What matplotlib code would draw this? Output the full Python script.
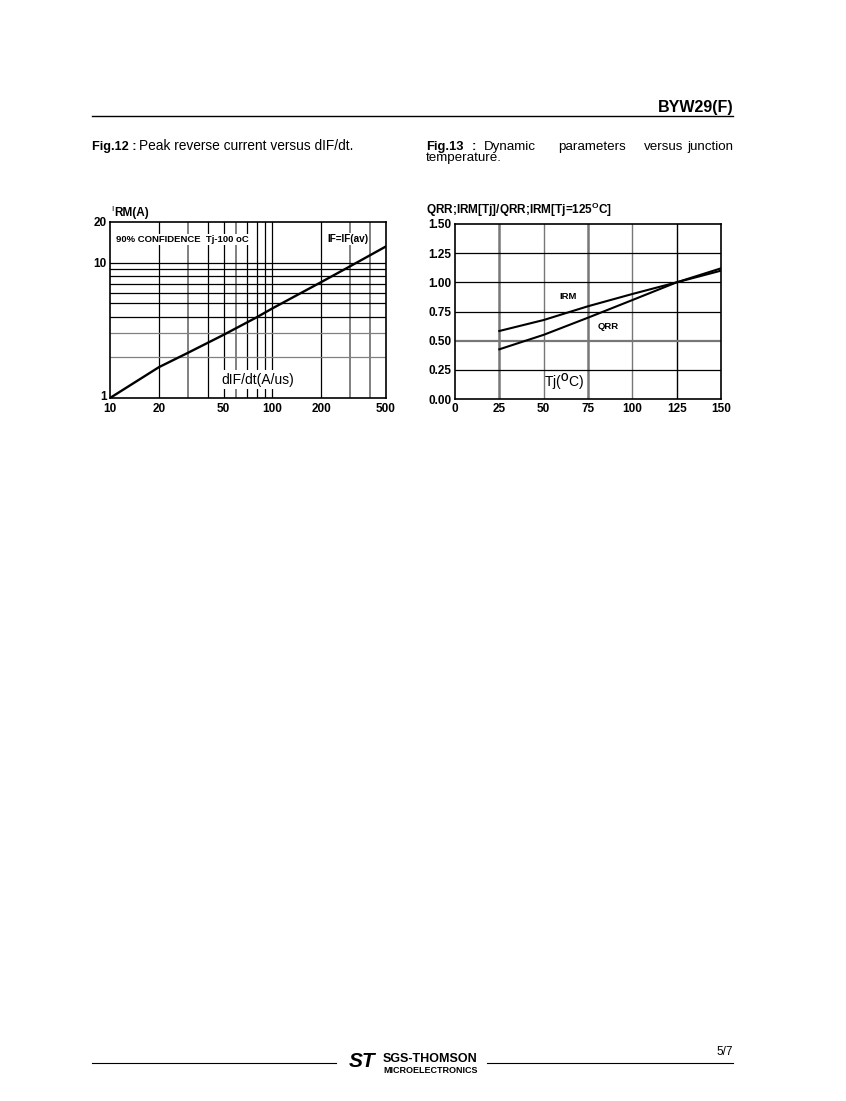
import matplotlib
matplotlib.use("Agg")
import matplotlib.pyplot as plt
from matplotlib.transforms import ScaledTranslation

plt.rcParams['font.family'] = ['Liberation Sans', 'DejaVu Sans']
plt.rcParams['mathtext.fontset'] = 'custom'
plt.rcParams['mathtext.rm'] = 'Liberation Sans'
plt.rcParams['mathtext.bf'] = 'Liberation Sans:bold'

# ---- Fig.12 data ----
didt = [10, 20, 30, 50, 80, 100, 200, 300, 500]
irm_a = [1.0, 1.69, 2.15, 2.93, 3.95, 4.6, 7.2, 9.4, 13.2]
f12_xticks = [10, 20, 50, 100, 200, 500]
f12_yticks = [1, 10, 20]
f12_vgrid_black = [20, 40, 50, 70, 80, 90, 100, 200]
f12_vgrid_gray = [30, 60, 300, 400]
f12_hgrid_black = [4, 5, 6, 7, 8, 9, 10]
f12_hgrid_gray = [2, 3]

# ---- Fig.13 data ----
tj = [25, 50, 75, 100, 125, 150]
irm_rel = [0.583, 0.677, 0.795, 0.90, 1.0, 1.10]
qrr_rel = [0.426, 0.55, 0.697, 0.848, 1.0, 1.12]
f13_xticks = [0, 25, 50, 75, 100, 125, 150]
f13_yticks = [0.0, 0.25, 0.50, 0.75, 1.00, 1.25, 1.50]

W, H = 846, 1101
fig = plt.figure(figsize=(W / 100, H / 100), dpi=100)


def fx(x):
    return x / W


def fy(y):
    return 1 - y / H


CS = 9.6  # caption size
L1, L2 = 149.5, 161.5

# header
fig.add_artist(plt.Line2D([fx(92), fx(733)], [fy(116), fy(116)], color='black', lw=1.0))
fig.text(fx(733), fy(112), "BYW29(F)", ha='right', va='baseline', fontsize=11.5, fontweight='bold')
fig.text(fx(92), fy(L1), "Fig.12 :", ha='left', va='baseline', fontsize=9.2, fontweight='bold')
fig.text(fx(139), fy(L1), "Peak reverse current versus dIF/dt.", ha='left', va='baseline', fontsize=9.9)
fig.text(fx(426), fy(L1), "Fig.13", ha='left', va='baseline', fontsize=9.4, fontweight='bold')
fig.text(fx(472), fy(L1), ":", ha='left', va='baseline', fontsize=9.4, fontweight='bold')
fig.text(fx(484), fy(L1), "Dynamic", ha='left', va='baseline', fontsize=CS)
fig.text(fx(558), fy(L1), "parameters", ha='left', va='baseline', fontsize=CS)
fig.text(fx(644), fy(L1), "versus", ha='left', va='baseline', fontsize=CS)
fig.text(fx(733), fy(L1), "junction", ha='right', va='baseline', fontsize=CS)
fig.text(fx(426), fy(L2), "temperature.", ha='left', va='baseline', fontsize=CS)

# ---- Fig.12 axes ----
ax1 = fig.add_axes([fx(110), fy(398), (386 - 110) / W, (398 - 222) / H])
ax1.set_xscale('log')
ax1.set_yscale('log')
ax1.set_xlim(10, 500)
ax1.set_ylim(1, 20)
for v in f12_vgrid_black:
    ax1.axvline(v, color='black', lw=0.9, zorder=1)
for v in f12_vgrid_gray:
    ax1.axvline(v, color='#808080', lw=1.4, zorder=1)
for v in f12_hgrid_black:
    ax1.axhline(v, color='black', lw=0.9, zorder=1)
for v in f12_hgrid_gray:
    ax1.axhline(v, color='#808080', lw=0.9, zorder=1)
ax1.plot(didt, irm_a, color='black', lw=1.7, zorder=5)
ax1.set_xticks(f12_xticks)
ax1.set_xticklabels([str(v) for v in f12_xticks], fontweight='bold', fontsize=8.5)
ax1.set_yticks(f12_yticks)
ax1.set_yticklabels([str(v) for v in f12_yticks], fontweight='bold', fontsize=8.5)
ax1.minorticks_off()
ax1.tick_params(axis='x', length=0, pad=3.5)
ax1.tick_params(axis='y', length=0, pad=2.5)
# raise the bottom "1" label slightly so it clears the "10" below it
lab1 = ax1.get_yticklabels()[0]
lab1.set_transform(lab1.get_transform() + ScaledTranslation(0, 2.5 / 100, fig.dpi_scale_trans))
for s in ax1.spines.values():
    s.set_linewidth(1.2)
wb = dict(facecolor='white', edgecolor='none', pad=0.6)
ax1.text(0.022, 0.9, "90% CONFIDENCE  Tj-100 oC", transform=ax1.transAxes, fontsize=6.8,
         fontweight='bold', ha='left', va='center', bbox=wb, zorder=3)
ax1.text(0.935, 0.905, "IF=IF(av)", transform=ax1.transAxes, fontsize=7.2,
         fontweight='bold', ha='right', va='center', bbox=wb, zorder=3)
ax1.text(0.534, 0.105, "dIF/dt(A/us)", transform=ax1.transAxes, fontsize=10,
         ha='center', va='center', bbox=dict(facecolor='white', edgecolor='none', pad=1.5), zorder=3)
fig.text(fx(111), fy(211), "I", fontsize=6, ha='left', va='baseline')
fig.text(fx(114), fy(216), "RM(A)", fontsize=8.5, fontweight='bold', ha='left', va='baseline')

# ---- Fig.13 axes ----
ax2 = fig.add_axes([fx(455), fy(399), (721 - 455) / W, (399 - 224) / H])
ax2.set_xlim(0, 150)
ax2.set_ylim(0, 1.5)
ax2.axvline(25, color='#777777', lw=1.8, zorder=1)
ax2.axvline(50, color='#777777', lw=1.0, zorder=1)
ax2.axvline(75, color='#777777', lw=1.8, zorder=1)
ax2.axvline(100, color='#777777', lw=1.0, zorder=1)
ax2.axvline(125, color='black', lw=1.0, zorder=1)
for v in [0.25, 0.75, 1.0, 1.25]:
    ax2.axhline(v, color='black', lw=0.9, zorder=1)
ax2.axhline(0.5, color='#777777', lw=1.6, zorder=1)
ax2.plot(tj, irm_rel, color='black', lw=1.5, zorder=5)
ax2.plot(tj, qrr_rel, color='black', lw=1.5, zorder=5)
ax2.set_xticks(f13_xticks)
ax2.set_xticklabels([str(v) for v in f13_xticks], fontweight='bold', fontsize=8.5)
ax2.set_yticks(f13_yticks)
ax2.set_yticklabels(["%.2f" % v for v in f13_yticks], fontweight='bold', fontsize=8.5)
ax2.tick_params(axis='x', length=0, pad=3)
ax2.tick_params(axis='y', length=0, pad=2.5)
for s in ax2.spines.values():
    s.set_linewidth(1.2)
ax2.text(63.7, 0.875, "IRM", fontsize=6.8, fontweight='bold', ha='center', va='center')
ax2.text(86.3, 0.625, "QRR", fontsize=6.8, fontweight='bold', ha='center', va='center')
ax2.text(61.5, 0.14, r"Tj($^{\mathbf{O}}$C)", fontsize=10, ha='center', va='center')
fig.text(fx(426), fy(214), r"QRR;IRM[Tj]/QRR;IRM[Tj=125$^{\mathbf{O}}$C]", fontsize=8.5,
         fontweight='bold', ha='left', va='baseline')

# footer
fig.add_artist(plt.Line2D([fx(92), fx(336)], [fy(1063), fy(1063)], color='black', lw=0.8))
fig.add_artist(plt.Line2D([fx(487), fx(733)], [fy(1063), fy(1063)], color='black', lw=0.8))
fig.text(fx(362), fy(1067), "ST", fontsize=15, fontweight='bold', style='italic', ha='center',
         va='baseline')
fig.text(fx(383), fy(1062), "SGS-THOMSON", fontsize=9, fontweight='bold', ha='left', va='baseline')
fig.text(fx(383), fy(1073), "MICROELECTRONICS", fontsize=6.5, fontweight='bold', ha='left', va='baseline')
fig.text(fx(733), fy(1055), "5/7", fontsize=8.5, ha='right', va='baseline')

fig.savefig("out.png", dpi=100)
